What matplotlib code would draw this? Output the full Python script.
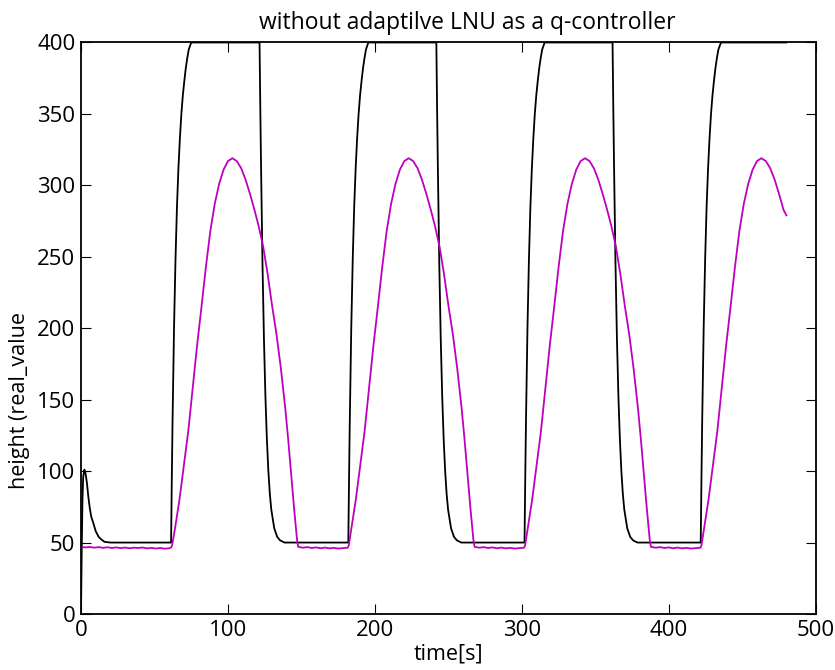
import matplotlib
matplotlib.use("Agg")
import matplotlib.pyplot as plt

# tiempos y valores del control (negro)
t_control = [0, 0.5, 1, 1.5, 2.3, 3, 4, 5, 6, 7, 8.4, 10, 12, 14, 16, 20,
             61.3, 61.8, 62.3, 63.3, 64.3, 65.3, 66.3, 67.3, 68.3, 69.3, 70.3, 71.3, 72.3, 73.3, 75, 121.5,
             122, 122.5, 123.5, 124.5, 125.5, 126.5, 127.5, 128.5, 129.5, 131.5, 133.5, 135.5, 138.5,
             181.9, 182.4, 182.9, 183.9, 184.9, 185.9, 186.9, 187.9, 188.9, 189.9, 190.9, 191.9, 192.9, 193.9, 195.5, 241.8,
             242.3, 242.8, 243.8, 244.8, 245.8, 246.8, 247.8, 248.8, 249.8, 251.8, 253.8, 255.8, 258.8,
             301.8, 302.3, 302.8, 303.8, 304.8, 305.8, 306.8, 307.8, 308.8, 309.8, 310.8, 311.8, 312.8, 313.8, 315.5, 361.7,
             362.2, 362.7, 363.7, 364.7, 365.7, 366.7, 367.7, 368.7, 369.7, 371.7, 373.7, 375.7, 378.7,
             421.7, 422.2, 422.7, 423.7, 424.7, 425.7, 426.7, 427.7, 428.7, 429.7, 430.7, 431.7, 432.7, 433.7, 435.5, 480]
v_control = [0, 45, 80, 96, 101, 99, 92, 82, 74, 68, 63.6, 58, 54, 52, 50.5, 50,
             50, 95, 135, 200, 248, 285, 312, 333, 350, 363, 373, 382, 389, 395, 400, 400,
             355, 315, 245, 192, 152, 122, 100, 84, 73, 60, 54, 51.5, 50,
             50, 95, 135, 200, 248, 285, 312, 333, 350, 363, 373, 382, 389, 395, 400, 400,
             355, 315, 245, 192, 152, 122, 100, 84, 73, 60, 54, 51.5, 50,
             50, 95, 135, 200, 248, 285, 312, 333, 350, 363, 373, 382, 389, 395, 400, 400,
             355, 315, 245, 192, 152, 122, 100, 84, 73, 60, 54, 51.5, 50,
             50, 95, 135, 200, 248, 285, 312, 333, 350, 363, 373, 382, 389, 395, 400, 400]

# altura medida (magenta)
t_altura = [0, 3, 6, 9, 12, 15, 18, 21, 24, 27, 30, 33, 36, 39, 42, 45, 48, 51, 54, 57, 60, 61.3,
            62, 64, 67, 70, 73, 76, 79, 82, 85, 88, 91, 94, 97, 100, 103, 106, 109, 112, 115, 118, 121, 124,
            127, 130, 133, 136, 139, 141, 143, 145, 147, 147.8,
            151, 154, 157, 160, 163, 166, 169, 172, 175, 178, 181.5,
            182.2, 184, 187, 190, 193, 196, 199, 202, 205, 208, 211, 214, 217, 220, 223, 226, 229, 232, 235, 238, 241, 244,
            247, 250, 253, 256, 259, 261, 263, 265, 267, 267.8,
            271, 274, 277, 280, 283, 286, 289, 292, 295, 298, 301.5,
            302.2, 304, 307, 310, 313, 316, 319, 322, 325, 328, 331, 334, 337, 340, 343, 346, 349, 352, 355, 358, 361, 364,
            367, 370, 373, 376, 379, 381, 383, 385, 387, 387.8,
            391, 394, 397, 400, 403, 406, 409, 412, 415, 418, 421.5,
            422.2, 424, 427, 430, 433, 436, 439, 442, 445, 448, 451, 454, 457, 460, 463, 466, 469, 472, 475, 478, 480]
v_altura = [47, 46.6, 46.9, 46.4, 46.8, 46.3, 46.7, 46.2, 46.6, 46.1, 46.5, 46.0, 46.4, 46.2, 46.5, 45.9, 46.3, 45.8, 46.2, 45.7, 46.0, 46.5,
            48, 60, 80, 104, 128, 158, 188, 215, 243, 268, 287, 301, 311, 317, 319, 317, 312, 304, 294, 283, 271, 257,
            238, 216, 196, 172, 144, 122, 98, 74, 52, 47,
            46.4, 46.8, 46.2, 46.6, 46.0, 46.5, 45.9, 46.3, 45.8, 46.1, 46.4,
            48, 60, 80, 104, 128, 158, 188, 215, 243, 268, 287, 301, 311, 317, 319, 317, 312, 304, 294, 283, 271, 257,
            238, 216, 196, 172, 144, 122, 98, 74, 52, 47,
            46.4, 46.8, 46.2, 46.6, 46.0, 46.5, 45.9, 46.3, 45.8, 46.1, 46.4,
            48, 60, 80, 104, 128, 158, 188, 215, 243, 268, 287, 301, 311, 317, 319, 317, 312, 304, 294, 283, 271, 257,
            238, 216, 196, 172, 144, 122, 98, 74, 52, 47,
            46.4, 46.8, 46.2, 46.6, 46.0, 46.5, 45.9, 46.3, 45.8, 46.1, 46.4,
            48, 60, 80, 104, 128, 158, 188, 215, 243, 268, 287, 301, 311, 317, 319, 317, 312, 304, 294, 283, 279]

x_ticks = [0, 100, 200, 300, 400, 500]
y_ticks = [0, 50, 100, 150, 200, 250, 300, 350, 400]

plt.rcParams['font.family'] = ['Open Sans', 'DejaVu Sans']
plt.rcParams['font.size'] = 16

fig = plt.figure(figsize=(8.35, 6.7), dpi=100)
ax = fig.add_axes([0.097, 0.0836, 0.88, 0.853])

ax.plot(t_control, v_control, color='k', lw=1.3)
ax.plot(t_altura, v_altura, color=(0.75, 0, 0.75), lw=1.3)

ax.set_xlim(0, 500)
ax.set_ylim(0, 400)
ax.set_xticks(x_ticks)
ax.set_yticks(y_ticks)
ax.tick_params(direction='in', length=7, top=True, right=True, labelsize=16, pad=4)
for s in ax.spines.values():
    s.set_linewidth(1.3)

ax.set_title("without adaptilve LNU as a q-controller", fontsize=16.5, x=0.526, pad=10)
ax.set_xlabel("time[s]", fontsize=15.5, labelpad=2)
ax.set_ylabel("height (real_value", fontsize=15.5)
ax.yaxis.set_label_coords(-0.07, 0.374)

fig.savefig("out.png", dpi=100)
